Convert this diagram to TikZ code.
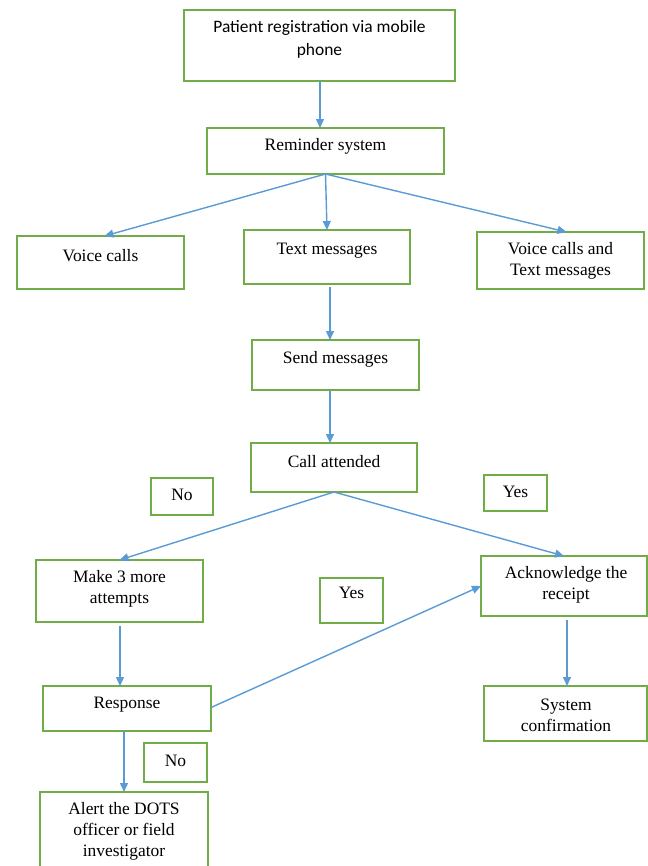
\documentclass[tikz,border=0pt]{standalone}
\usepackage{fontspec}
\setmainfont{Liberation Serif}
\newfontfamily\calibfont{Carlito}
\usetikzlibrary{calc,arrows.meta}
\definecolor{boxgreen}{HTML}{70AD47}
\definecolor{arrowblue}{HTML}{5B9BD5}
\begin{document}
\begin{tikzpicture}[x=1bp,y=-1bp,
  gbox/.style={draw=boxgreen, line width=1.5bp, inner sep=0pt, outer sep=0pt, rectangle},
  txt/.style={font=\fontsize{17.5}{21}\selectfont, align=center, inner sep=0pt},
  arr/.style={draw=arrowblue, line width=1.4bp, -{Triangle[length=9bp,width=8bp]}}]
\fill[white] (0,0) rectangle (648,866);
\useasboundingbox (0,0) rectangle (648,866);
\begin{scope}
\clip (0,0) rectangle (648,866);
% boxes
\node[gbox, minimum width=271bp, minimum height=71bp] (b1) at (319.5,45.5) {};
\node[gbox, minimum width=237bp, minimum height=46bp] (b2) at (325.5,151) {};
\node[gbox, minimum width=167bp, minimum height=53bp] (b3) at (100.5,262.5) {};
\node[gbox, minimum width=166bp, minimum height=54bp] (b4) at (327,257) {};
\node[gbox, minimum width=167bp, minimum height=57bp] (b5) at (560.5,260.5) {};
\node[gbox, minimum width=167bp, minimum height=50bp] (b6) at (335.5,365) {};
\node[gbox, minimum width=166bp, minimum height=49bp] (b7) at (334,467.5) {};
\node[gbox, minimum width=62bp, minimum height=37bp] (n1) at (182,496.5) {};
\node[gbox, minimum width=63bp, minimum height=36bp] (y1) at (515.5,493) {};
\node[gbox, minimum width=167bp, minimum height=62bp] (b8) at (119.5,591) {};
\node[gbox, minimum width=166bp, minimum height=60bp] (b9) at (564,586) {};
\node[gbox, minimum width=63bp, minimum height=45bp] (y2) at (351.5,600.5) {};
\node[gbox, minimum width=168bp, minimum height=45bp] (b10) at (127,708.5) {};
\node[gbox, minimum width=63bp, minimum height=39bp] (n2) at (175.5,762.5) {};
\node[gbox, minimum width=168bp, minimum height=80bp] (b11) at (124,832) {};
\node[gbox, minimum width=163bp, minimum height=55bp] (b12) at (565.5,713.5) {};
% texts
\node[txt, font=\calibfont\fontsize{17.5}{23}\selectfont] (t1) at (319.5,39.5) {Patient registration via mobile\\phone};
\node[txt] (t2) at (325.5,146) {Reminder system};
\node[txt] (t3) at (100.5,256) {Voice calls};
\node[txt] (t4) at (327,251) {Text messages};
\node[txt] (t5) at (560.5,260.5) {Voice calls and\\Text messages};
\node[txt] (t6) at (335.5,359) {Send messages};
\node[txt] (t7) at (334,462) {Call attended};
\node[txt] (tn1) at (182,495) {No};
\node[txt] (ty1) at (515.5,492) {Yes};
\node[txt] (t8) at (119.5,589) {Make 3 more\\attempts};
\node[txt] (t9) at (566,585) {Acknowledge the\\receipt};
\node[txt] (ty2) at (351.5,593) {Yes};
\node[txt] (t10) at (127,705) {Response};
\node[txt] (tn2) at (175.5,761) {No};
\node[txt] (t11) at (124,831.5) {Alert the DOTS\\officer or field\\investigator};
\node[txt] (t12) at (566,715) {System\\confirmation};
% connectors
\draw[arr] ($(b1.south)+(0.5,0)$) -- ($(b1.south |- b2.north)+(0.5,0)$);
\draw[arr] (b2.south) -- ($(b3.north)+(4,0)$);
\draw[arr] (b2.south) -- (b4.north);
\draw[arr] (b2.south) -- ($(b5.north)+(6,0)$);
\draw[arr] ($(b4.south)+(3,3)$) -- ($(b4.south |- b6.north)+(3,0)$);
\draw[arr] ($(b6.south)+(-5.5,0)$) -- ($(b6.south |- b7.north)+(-5.5,0)$);
\draw[arr] (b7.south) -- (b8.north);
\draw[arr] (b7.south) -- (b9.north);
\draw[arr] ($(b8.south)+(0.5,4)$) -- ($(b8.south |- b10.north)+(0.5,0)$);
\draw[arr] ($(b10.east)+(0,-1)$) -- (b9.west);
\draw[arr] ($(b10.south)+(-3,0)$) -- ($(b10.south |- b11.north)+(-3,0)$);
\draw[arr] ($(b9.south)+(3,4)$) -- ($(b9.south |- b12.north)+(3,0)$);
\end{scope}
\end{tikzpicture}
\end{document}
